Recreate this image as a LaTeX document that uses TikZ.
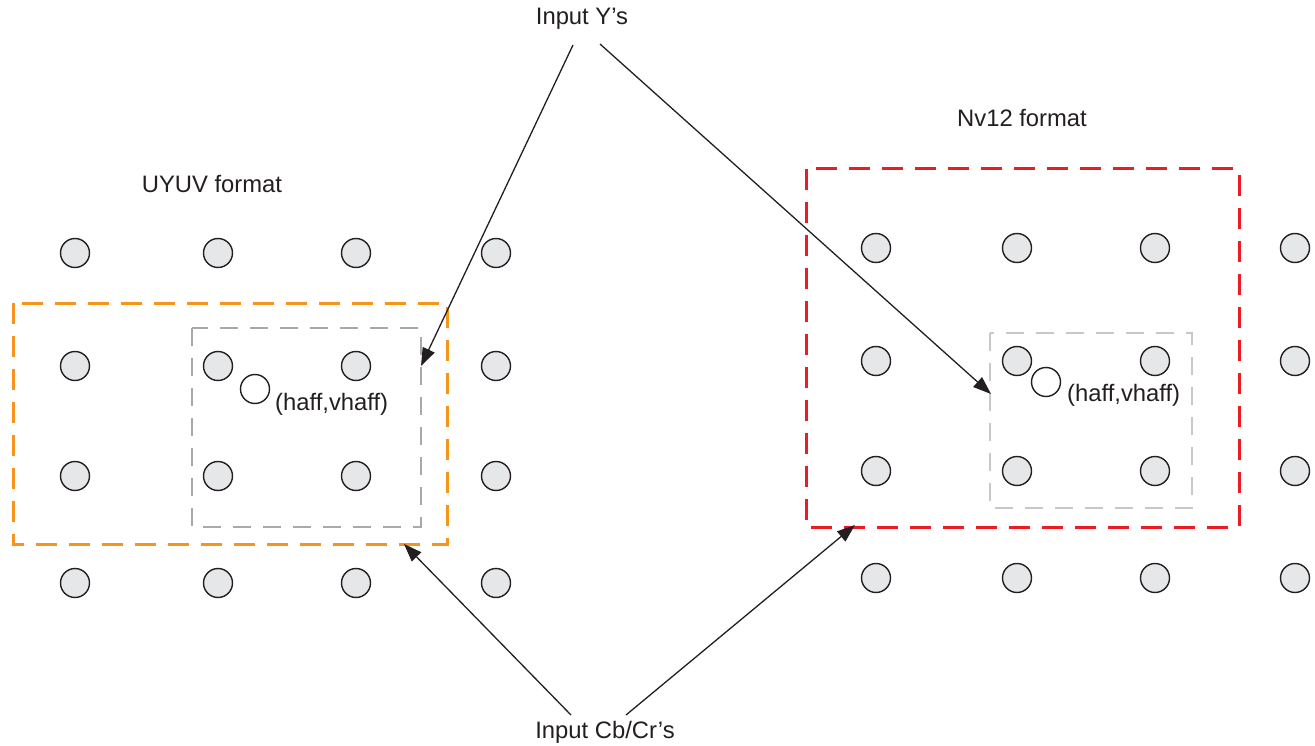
\documentclass[tikz,border=0pt]{standalone}
\usepackage{fontspec}
\setmainfont{Liberation Sans}
\usetikzlibrary{arrows.meta}
\definecolor{dotfill}{HTML}{E6E7E8}
\definecolor{orangeb}{HTML}{F7941D}
\definecolor{redb}{HTML}{ED1C24}
\definecolor{grayb}{HTML}{A7A9AC}
\definecolor{lgrayb}{HTML}{C7C8CA}
\definecolor{txt}{HTML}{231F20}
\tikzset{
  dot/.style={circle,draw=txt,line width=1.4pt,fill=dotfill,minimum size=29pt,inner sep=0pt},
  hdot/.style={circle,draw=txt,line width=1.4pt,fill=white,minimum size=29pt,inner sep=0pt},
  lbl/.style={font=\fontsize{23.8}{28}\selectfont,text=txt,inner sep=0pt},
  conn/.style={draw=txt,line width=1.3pt,-{Triangle[length=18pt,width=13pt]}},
  obox/.style={draw=orangeb,line width=3pt,dash pattern=on 21pt off 12pt},
  rbox/.style={draw=redb,line width=3pt,dash pattern=on 21pt off 12pt},
  gbox/.style={draw=grayb,line width=2.4pt,dash pattern=on 18pt off 12pt},
  lgbox/.style={draw=lgrayb,line width=1.6pt,dash pattern=on 18pt off 12pt},
}
\begin{document}
\begin{tikzpicture}[x=1pt,y=-1pt]
\useasboundingbox (0,0) rectangle (1315,746);
% boxes
\draw[obox] (13,303) rectangle (447,544);
\draw[gbox] (192,328) rectangle (421,527);
\draw[rbox] (806,169) rectangle (1239,527);
\draw[lgbox] (990,333) rectangle (1192,508);
% left grid
\foreach \x [count=\i] in {75,218,356,496}{
  \foreach \y [count=\j] in {253,366,476,583}{
    \node[dot] (L\i\j) at (\x,\y) {};
  }
}
% right grid
\foreach \x [count=\i] in {876,1017,1155,1295}{
  \foreach \y [count=\j] in {248,361,471,578}{
    \node[dot] (R\i\j) at (\x,\y) {};
  }
}
\node[hdot] (hl) at (255,389) {};
\node[lbl,anchor=west] (hlt) at (275,404) {(haff,vhaff)};
\node[hdot] (hr) at (1046,382) {};
\node[lbl,anchor=west] (hrt) at (1067,395) {(haff,vhaff)};
% labels
\node[lbl] (uyuv) at (212,184) {UYUV format};
\node[lbl] (nv12) at (1022,118) {Nv12 format};
\node[lbl] (iny) at (582,19) {Input Y’s};
\node[lbl] (incb) at (605,732) {Input Cb/Cr’s};
% connector ends
\coordinate (y1s) at (573,45);
\coordinate (y2s) at (600,44);
\coordinate (c1s) at (571,715);
\coordinate (c2s) at (626,715);
\coordinate (y1e) at (421,366);
\coordinate (y2e) at (991,394);
\coordinate (c1e) at (404,544);
\coordinate (c2e) at (855,525);
\draw[conn] (y1s) -- (y1e);
\draw[conn] (y2s) -- (y2e);
\draw[conn] (c1s) -- (c1e);
\draw[conn] (c2s) -- (c2e);
\end{tikzpicture}
\end{document}
